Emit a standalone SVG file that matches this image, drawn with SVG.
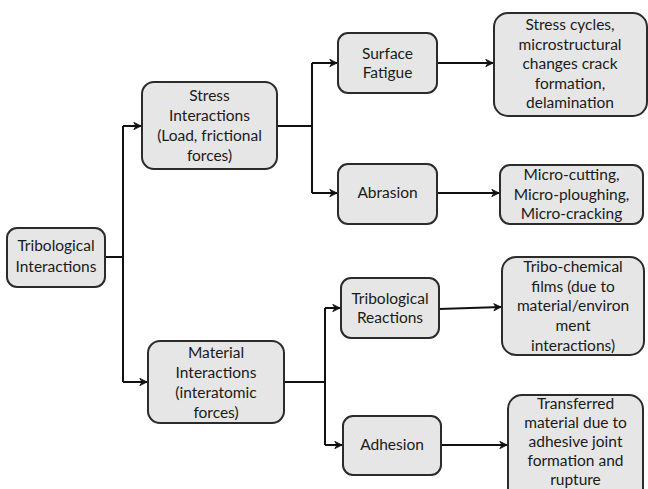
<svg xmlns="http://www.w3.org/2000/svg" width="648" height="489" viewBox="0 0 648 489">
<defs>
<marker id="ah" viewBox="0 0 10 10" refX="9" refY="5" markerWidth="9" markerHeight="9" markerUnits="userSpaceOnUse" orient="auto">
<path d="M1,1 L9,5 L1,9 L3.5,5 Z" fill="#111" stroke="#111" stroke-width="1" stroke-linejoin="round"/>
</marker>
</defs>
<style>
.box{fill:#e6e6e6;stroke:#2b2b2b;stroke-width:2}
.t{font-family:Lato,"Liberation Sans",sans-serif;font-size:15.5px;fill:#1a1a1a;text-anchor:middle}
.c{fill:none;stroke:#111;stroke-width:2}
.a{fill:none;stroke:#111;stroke-width:2;marker-end:url(#ah)}
</style>
<rect width="648" height="489" fill="#fff"/>
<g id="connectors">
<path class="c" d="M105,257 H123"/>
<path class="c" d="M123,126 V382"/>
<path class="a" d="M123,126 H141"/>
<path class="a" d="M123,382 H147"/>
<path class="c" d="M277,126 H312"/>
<path class="c" d="M312,63 V193"/>
<path class="a" d="M312,63 H337"/>
<path class="a" d="M312,193 H337"/>
<path class="a" d="M437,63 H493"/>
<path class="a" d="M437,193 H499"/>
<path class="c" d="M284,382 H325"/>
<path class="c" d="M325,308 V445"/>
<path class="a" d="M325,308 H340"/>
<path class="a" d="M325,445 H342"/>
<path class="a" d="M439,309 L501,307"/>
<path class="a" d="M441,445 H507"/>
</g>
<g id="tribological-interactions">
<rect class="box" x="7" y="228" width="98" height="59" rx="10"/>
<text class="t" x="56" y="251">Tribological</text>
<text class="t" x="56" y="272">Interactions</text>
</g>
<g id="stress-interactions">
<rect class="box" x="142" y="82" width="135" height="87" rx="12"/>
<text class="t" x="209.5" y="101">Stress</text>
<text class="t" x="209.5" y="121">Interactions</text>
<text class="t" x="209.5" y="141">(Load, frictional</text>
<text class="t" x="209.5" y="161">forces)</text>
</g>
<g id="material-interactions">
<rect class="box" x="148" y="341" width="136" height="82" rx="12"/>
<text class="t" x="216" y="358">Material</text>
<text class="t" x="216" y="378">Interactions</text>
<text class="t" x="216" y="398">(interatomic</text>
<text class="t" x="216" y="418">forces)</text>
</g>
<g id="surface-fatigue">
<rect class="box" x="338" y="33" width="99" height="60" rx="10"/>
<text class="t" x="387.5" y="59">Surface</text>
<text class="t" x="387.5" y="78">Fatigue</text>
</g>
<g id="abrasion">
<rect class="box" x="338" y="164" width="99" height="60" rx="10"/>
<text class="t" x="387.5" y="198">Abrasion</text>
</g>
<g id="stress-cycles">
<rect class="box" x="494" y="13" width="153" height="103" rx="14"/>
<text class="t" x="570" y="30">Stress cycles,</text>
<text class="t" x="570" y="50">microstructural</text>
<text class="t" x="570" y="69">changes crack</text>
<text class="t" x="570" y="89">formation,</text>
<text class="t" x="570" y="108">delamination</text>
</g>
<g id="micro">
<rect class="box" x="500" y="165" width="143" height="59" rx="10"/>
<text class="t" x="571.5" y="180">Micro-cutting,</text>
<text class="t" x="571.5" y="200">Micro-ploughing,</text>
<text class="t" x="571.5" y="219">Micro-cracking</text>
</g>
<g id="tribological-reactions">
<rect class="box" x="341" y="278" width="98" height="60" rx="10"/>
<text class="t" x="390" y="304">Tribological</text>
<text class="t" x="390" y="323">Reactions</text>
</g>
<g id="adhesion">
<rect class="box" x="343" y="416" width="98" height="59" rx="10"/>
<text class="t" x="392" y="450">Adhesion</text>
</g>
<g id="tribo-chemical">
<rect class="box" x="502" y="257" width="142" height="98" rx="14"/>
<text class="t" x="573" y="272">Tribo-chemical</text>
<text class="t" x="573" y="292">films (due to</text>
<text class="t" x="573" y="311">material/environ</text>
<text class="t" x="573" y="331">ment</text>
<text class="t" x="573" y="351">interactions)</text>
</g>
<g id="transferred">
<rect class="box" x="508" y="395" width="135" height="110" rx="14"/>
<text class="t" x="575.5" y="409">Transferred</text>
<text class="t" x="575.5" y="428">material due to</text>
<text class="t" x="575.5" y="447">adhesive joint</text>
<text class="t" x="575.5" y="466">formation and</text>
<text class="t" x="575.5" y="485">rupture</text>
</g>
</svg>
